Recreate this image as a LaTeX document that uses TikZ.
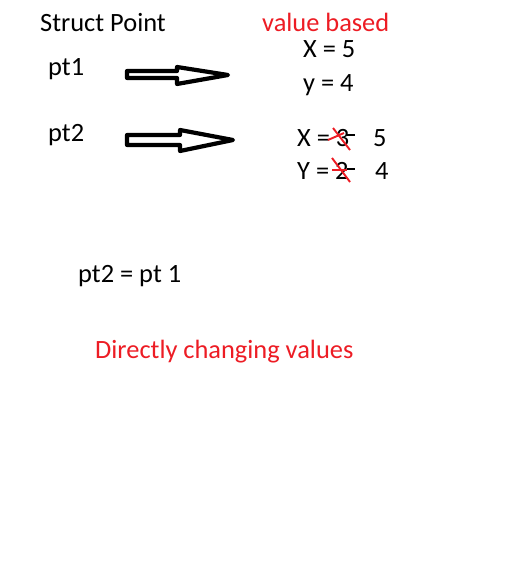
\documentclass[tikz,border=0pt]{standalone}
\usepackage{fontspec}
\setmainfont{Carlito}
\definecolor{paintred}{RGB}{237,28,36}
\begin{document}
\begin{tikzpicture}[x=1pt,y=-1pt,
  lbl/.style={anchor=base west,inner sep=0pt,font=\fontsize{26.4}{31}\selectfont},
  redlbl/.style={lbl,text=paintred},
  fatarrow/.style={draw=black,line width=4.2pt,fill=white,line join=round},
  strikeline/.style={draw=paintred,line width=1.9pt},
  blackdash/.style={draw=black,line width=1.1pt}]
\useasboundingbox[fill=white] (0,0) rectangle (526,561);
% texts
\node[lbl] (title) at (40,32) {Struct Point};
\node[redlbl] (vb) at (262,32) {value based};
\node[lbl] (x1) at (303,58) {X = 5};
\node[lbl] (y1) at (303,92) {y = 4};
\node[lbl] (pt1) at (48,76) {pt1};
\node[lbl] (pt2) at (48,142) {pt2};
\node[lbl] (x2) at (297,147) {X = 3};
\node[lbl] (x2n) at (373,147) {5};
\node[lbl] (y2) at (297,180) {Y = 2};
\node[lbl] (y2n) at (375,180) {4};
\node[lbl] (assign) at (78,282) {pt2 = pt 1};
\node[redlbl] (direct) at (95,358) {Directly changing values};
% fat arrows
\path[fatarrow] (127,71) -- (177,71) -- (177,67) -- (228,75) -- (177,84) -- (177,78) -- (127,78) -- cycle;
\path[fatarrow] (127,135) -- (180,135) -- (180,130) -- (233,140) -- (180,151) -- (180,145) -- (127,145) -- cycle;
% crossings
\path[blackdash] (347,135) -- (355,135);
\path[strikeline] (333,128) -- (350,150);
\path[strikeline] (328,140) -- (344,133);
\path[blackdash] (347,169) -- (355,169);
\path[strikeline] (332,158) -- (350,182);
\path[strikeline] (332,170) -- (347,170);
\end{tikzpicture}
\end{document}
